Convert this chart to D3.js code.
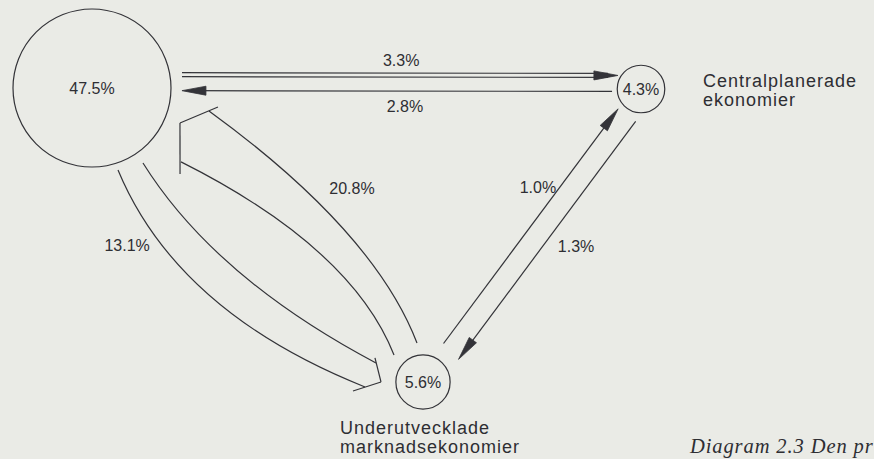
<!DOCTYPE html>
<html>
<head>
<meta charset="utf-8">
<script src="https://cdn.jsdelivr.net/npm/d3@7"></script>
<style>
  html, body { margin: 0; padding: 0; background: #eaebe6; }
  svg { display: block; }
  text { font-family: "Liberation Sans", Arial, sans-serif; fill: #2e2e33; }
</style>
</head>
<body>
<script>
// regions and their share of world trade (%)
const regions = ["Industriländer", "Centralplanerade ekonomier", "Underutvecklade marknadsekonomier"];
const regionShares = [47.5, 4.3, 5.6];
const regionLabels = [[], ["Centralplanerade", "ekonomier"], ["Underutvecklade", "marknadsekonomier"]];

// trade flows between regions (% of world trade)
const flowFrom = [0, 1, 2, 0, 2, 1];
const flowTo = [1, 0, 0, 2, 1, 2];
const flowValues = [3.3, 2.8, 20.8, 13.1, 1.0, 1.3];

const captionText = "Diagram 2.3 Den pr";

// ---- layout ----
const width = 874, height = 459;
const nodePos = [[92, 88], [641, 89], [423, 382]];
const nameOffset = [null, [62, -2], [-83, 52]];

// straight arrows: perpendicular shift, gap at source / target circle
const lineLayout = {
  0: {shift: -13.5, gaps: [12, 3], double: true},
  1: {shift: -2.5, gaps: [5.3, 11]},
  4: {shift: -6.5, gaps: [16.5, 6.5]},
  5: {shift: -15, gaps: [9, 15]}
};
// broad arrows: edges [angle, dist] from source / target centre, chevron head at target
const bandLayout = {
  2: {edges: [{from: [261.25, 39.5], to: [11.1, 119.2], t: 0.36, bend: 42.7},
              {from: [222.95, 39.6], to: [39.7, 115.7], t: 0.36, bend: 51.1}],
      head: [21.7, 94.7], barbs: [[8.6, 127.4], [44.3, 123.0]]},
  3: {edges: [{from: [55.8, 90.7], to: [202.0, 50.7], t: 0.42, bend: 40.3},
              {from: [72.4, 86.0], to: [175.1, 58.2], t: 0.42, bend: 67.8}],
      head: [180, 42], barbs: [[206.6, 53.7], [172.7, 70.6]]}
};
// flow label: fraction along centre line, perpendicular offset
const labelLayout = [[0.563, -28.5], [0.43, -17.4], [0.411, 97.9], [0.295, 94.2], [0.616, -24.1], [0.451, -41.6]];

const radius = d3.scaleSqrt().domain([0, d3.max(regionShares)]).range([0, 79]);
const ink = "#333338";

const svg = d3.select("body").append("svg")
  .attr("width", width)
  .attr("height", height);

function polar(c, deg, dist) {
  const a = deg * Math.PI / 180;
  return [c[0] + dist * Math.cos(a), c[1] + dist * Math.sin(a)];
}
function unit(a, b) {
  const dx = b[0] - a[0], dy = b[1] - a[1], L = Math.hypot(dx, dy);
  return {ux: dx / L, uy: dy / L, L: L};
}
function ctrl(p0, p2, t, bend) {
  const u = unit(p0, p2);
  return [p0[0] + (p2[0] - p0[0]) * t - u.uy * bend, p0[1] + (p2[1] - p0[1]) * t + u.ux * bend];
}
function arrowHead(tip, ux, uy) {
  const len = 24, hw = 4.5;
  const bx = tip[0] - ux * len, by = tip[1] - uy * len;
  return [tip, [bx - uy * hw, by + ux * hw], [bx + uy * hw, by - ux * hw]];
}

let gFlows = svg.append("g").attr("fill", "none").attr("stroke", ink).attr("stroke-width", 1.2);

flowValues.forEach((v, i) => {
  const s = flowFrom[i], t = flowTo[i];
  const cs = nodePos[s], ct = nodePos[t];
  const rs = radius(regionShares[s]), rt = radius(regionShares[t]);
  const u = unit(cs, ct);
  const nx = -u.uy, ny = u.ux;

  if (lineLayout[i]) {
    const lay = lineLayout[i];
    const a0 = Math.sqrt(Math.pow(rs + lay.gaps[0], 2) - lay.shift * lay.shift);
    const a1 = Math.sqrt(Math.pow(rt + lay.gaps[1], 2) - lay.shift * lay.shift);
    const p0 = [cs[0] + u.ux * a0 + nx * lay.shift, cs[1] + u.uy * a0 + ny * lay.shift];
    const p1 = [ct[0] - u.ux * a1 + nx * lay.shift, ct[1] - u.uy * a1 + ny * lay.shift];
    const offs = lay.double ? [-2, 2] : [0];
    offs.forEach(o => {
      gFlows.append("line")
        .attr("x1", p0[0] + nx * o).attr("y1", p0[1] + ny * o)
        .attr("x2", p1[0] - u.ux * 10 + nx * o).attr("y2", p1[1] - u.uy * 10 + ny * o);
    });
    svg.append("path")
      .attr("d", d3.line()(arrowHead(p1, u.ux, u.uy)) + "Z")
      .attr("fill", ink)
      .attr("stroke", ink)
      .attr("stroke-width", 0.8);
  } else {
    const lay = bandLayout[i];
    lay.edges.forEach(e => {
      const p0 = polar(cs, e.from[0], e.from[1]);
      const p2 = polar(ct, e.to[0], e.to[1]);
      const c = ctrl(p0, p2, e.t, e.bend);
      const path = d3.path();
      path.moveTo(p0[0], p0[1]);
      path.quadraticCurveTo(c[0], c[1], p2[0], p2[1]);
      gFlows.append("path").attr("d", path.toString());
    });
    const corner = polar(ct, lay.head[0], lay.head[1]);
    lay.barbs.forEach(b => {
      const e = polar(ct, b[0], b[1]);
      gFlows.append("line")
        .attr("x1", corner[0]).attr("y1", corner[1])
        .attr("x2", e[0]).attr("y2", e[1]);
    });
  }

  const lab = labelLayout[i];
  svg.append("text")
    .attr("x", cs[0] + (ct[0] - cs[0]) * lab[0] + nx * lab[1])
    .attr("y", cs[1] + (ct[1] - cs[1]) * lab[0] + ny * lab[1])
    .attr("dy", "0.35em")
    .attr("text-anchor", "middle")
    .style("font-size", "16px")
    .text(d3.format(".1f")(v) + "%");
});

// region circles
let gNodes = svg.append("g");
regionShares.forEach((d, i) => {
  gNodes.append("circle")
    .attr("cx", nodePos[i][0])
    .attr("cy", nodePos[i][1])
    .attr("r", radius(d))
    .attr("fill", "none")
    .attr("stroke", ink)
    .attr("stroke-width", 1.2);
  gNodes.append("text")
    .attr("x", nodePos[i][0])
    .attr("y", nodePos[i][1])
    .attr("dy", "0.35em")
    .attr("text-anchor", "middle")
    .style("font-size", "16px")
    .text(d3.format(".1f")(d) + "%");

  regionLabels[i].forEach((line, j) => {
    gNodes.append("text")
      .attr("x", nodePos[i][0] + nameOffset[i][0])
      .attr("y", nodePos[i][1] + nameOffset[i][1] + j * 19)
      .style("font-size", "18px")
      .style("letter-spacing", "1px")
      .text(line);
  });
});

svg.append("text")
  .attr("x", 690)
  .attr("y", 453)
  .style("font-family", "'Liberation Serif', 'DejaVu Serif', serif")
  .style("font-style", "italic")
  .style("font-size", "20.5px")
  .style("letter-spacing", "0.9px")
  .text(captionText);
</script>
</body>
</html>
